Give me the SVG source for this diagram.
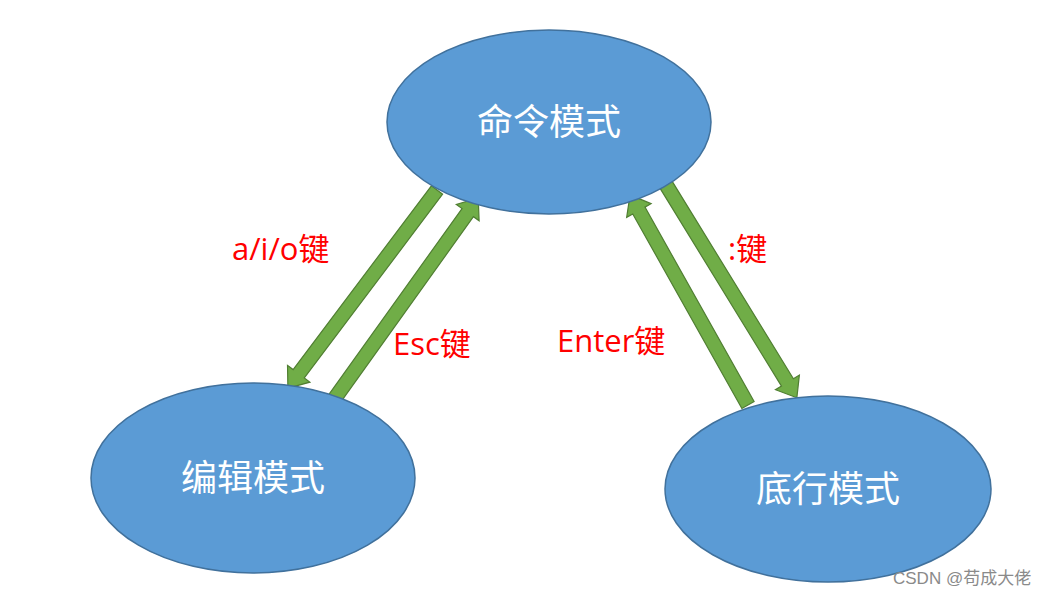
<svg xmlns="http://www.w3.org/2000/svg" width="1060" height="596" viewBox="0 0 1060 596">
<style>
.node{fill:#5b9bd5;stroke:#41719c;stroke-width:1.5}
.nt{fill:#fff;font-family:"Liberation Serif","Noto Sans CJK SC",serif;font-size:36px;text-anchor:middle}
.arr{fill:#70ad47;stroke:#507e32;stroke-width:1.2}
.lb{fill:#ff0000;font-family:"Open Sans","Noto Sans CJK SC",sans-serif;font-size:31px}
.wm{fill:#8a8a8a;font-family:"Liberation Sans","Noto Sans CJK SC",sans-serif;font-size:17px}
</style>
<rect width="1060" height="596" fill="#fff"/>
<g id="connectors">
<path class="arr" transform="translate(437,190) rotate(126.96)" d="M0,-7 L230,-7 L230,-14 L248,0 L230,14 L230,7 L0,7 Z"/>
<path class="arr" transform="translate(335,398) rotate(-54.4)" d="M0,-7 L228,-7 L228,-14 L246,0 L228,14 L228,7 L0,7 Z"/>
<path class="arr" transform="translate(748,405) rotate(-119.3)" d="M0,-7 L223,-7 L223,-14 L241,0 L223,14 L223,7 L0,7 Z"/>
<path class="arr" transform="translate(665,183) rotate(58.45)" d="M0,-7 L234,-7 L234,-14 L252,0 L234,14 L234,7 L0,7 Z"/>
<text class="lb" x="232" y="260">a/i/o键</text>
<text class="lb" x="393" y="355">Esc键</text>
<text class="lb" x="557" y="352">Enter键</text>
<text class="lb" x="728" y="260">:键</text>
</g>
<g id="cmd"><ellipse class="node" cx="549" cy="122" rx="162" ry="92"/><text class="nt" x="549" y="135">命令模式</text></g>
<g id="edit"><ellipse class="node" cx="253" cy="478" rx="162" ry="95"/><text class="nt" x="253" y="491">编辑模式</text></g>
<g id="bottom"><ellipse class="node" cx="828" cy="489" rx="163" ry="93"/><text class="nt" x="828" y="502">底行模式</text></g>
<text class="wm" x="893" y="584">CSDN @苟成大佬</text>
</svg>
